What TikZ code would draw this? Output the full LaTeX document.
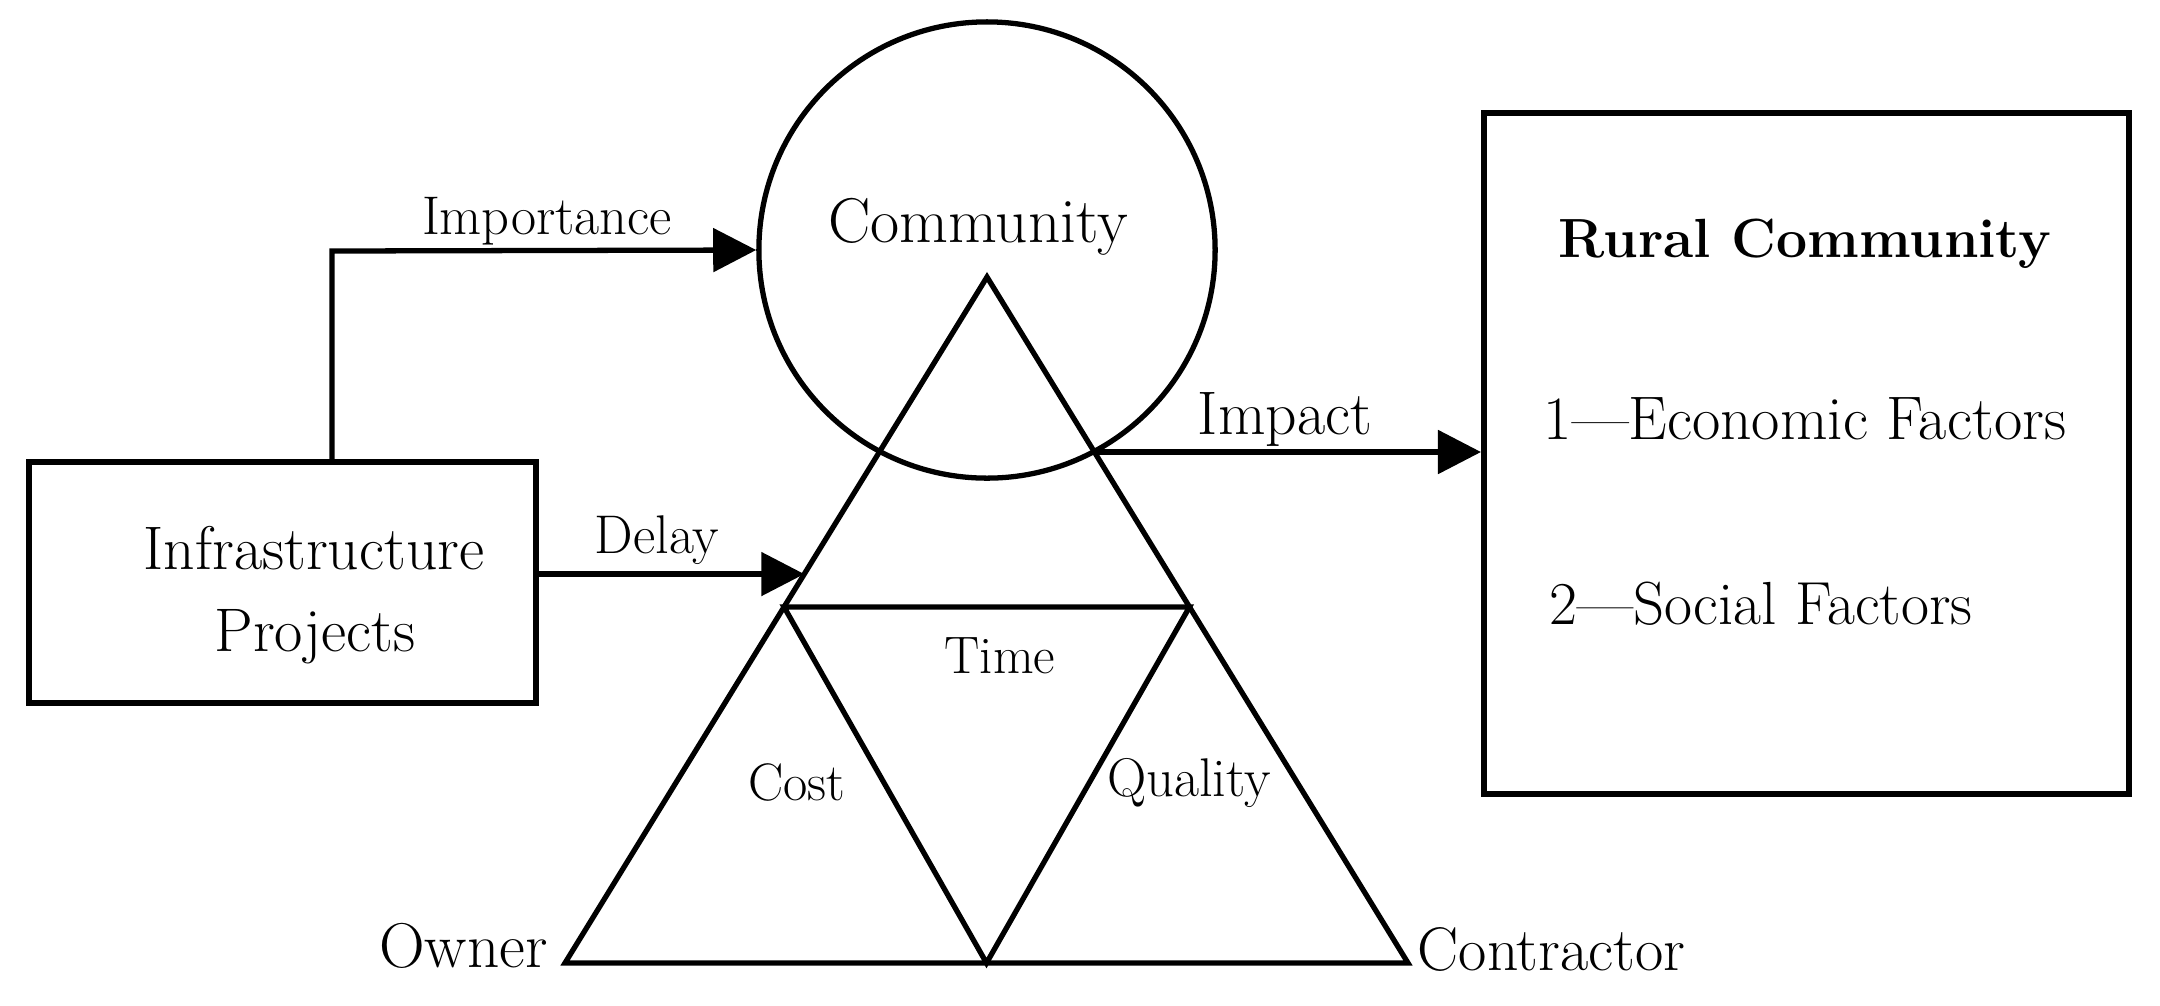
\documentclass[tikz,border=0pt]{standalone}
\usetikzlibrary{arrows.meta,calc}
\begin{document}
\begin{tikzpicture}[x=0.01cm,y=-0.01cm,
  boxstyle/.style={draw,line width=1.6pt,rectangle,inner sep=0pt},
  lbl/.style={inner sep=0pt,anchor=base},
  edge/.style={line width=1.5pt},
  arr/.style={line width=1.5pt,-{Triangle[length=0.43cm,width=0.43cm]}},
  tri/.style={line width=1.5pt,line join=miter}]
\useasboundingbox (0,0) rectangle (2160,1005);
% boxes and circle
\node[boxstyle,minimum width=5.07cm,minimum height=2.41cm] (infra) at (282.5,582.5) {};
\node[boxstyle,minimum width=6.45cm,minimum height=6.81cm] (rural) at (1806.5,453.5) {};
\node[circle,draw,line width=1.5pt,minimum size=4.56cm,inner sep=0pt] (comm) at (987,250) {};
% triangle
\coordinate (A) at (987,277);
\coordinate (BL) at (565,963);
\coordinate (BR) at (1408,963);
\coordinate (ML) at ($(A)!0.481!(BL)$);
\coordinate (MR) at ($(A)!0.481!(BR)$);
\coordinate (MB) at ($(BL)!0.5!(BR)$);
\draw[tri] (A) -- (BL) -- (BR) -- cycle;
\draw[tri] (ML) -- (MR) -- (MB) -- cycle;
% connector points
\coordinate (ik) at (332,251);
\coordinate (dl) at ($(A)!0.433!(BL)$);
\coordinate (ir) at (1094,452);
% connectors
\draw[arr] (infra.north -| ik) -- (ik) -- (comm.west);
\draw[arr] (infra.east |- dl) -- (dl);
\draw[arr] (ir) -- (rural.west |- ir);
% texts
\node[lbl,font=\fontsize{18}{21}\selectfont] (tcomm) at (978,242) {Community};
\node[lbl,font=\fontsize{15.5}{18}\selectfont] (timp) at (547,234) {Importance};
\node[lbl,font=\fontsize{15.5}{18}\selectfont] (tdel) at (657,553) {Delay};
\node[lbl,font=\fontsize{17.5}{21}\selectfont] (tinf) at (314,569) {Infrastructure};
\node[lbl,font=\fontsize{17.5}{21}\selectfont] (tpro) at (315,651) {Projects};
\node[lbl,font=\fontsize{17.5}{21}\selectfont] (timpact) at (1285,434) {Impact};
\node[lbl,font=\fontsize{15}{18}\selectfont] (ttime) at (1000,673) {Time};
\node[lbl,font=\fontsize{15}{18}\selectfont] (tcost) at (797,800) {Cost};
\node[lbl,font=\fontsize{15.5}{18}\selectfont] (tqual) at (1189,796) {Quality};
\node[lbl,font=\fontsize{18}{21}\selectfont] (town) at (463.5,967) {Owner};
\node[lbl,anchor=base west,font=\fontsize{17.5}{21}\selectfont] (tcon) at (1417,970) {Contractor};
\node[lbl,font=\bfseries\fontsize{15.7}{19}\selectfont] (trur) at (1805,257) {Rural Community};
\node[lbl,font=\fontsize{17.5}{21}\selectfont] (teco) at (1805,439) {1\textemdash Economic Factors};
\node[lbl,font=\fontsize{17.3}{21}\selectfont] (tsoc) at (1761,624) {2\textemdash Social Factors};
\end{tikzpicture}
\end{document}
